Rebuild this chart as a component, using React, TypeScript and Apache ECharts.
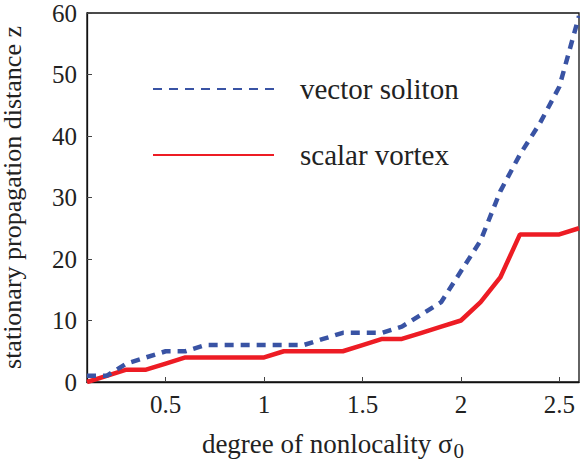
import React, { useEffect, useRef } from "react";
import * as echarts from "echarts";

const sigma = [0.1, 0.2, 0.3, 0.4, 0.5, 0.6, 0.7, 0.8, 0.9, 1.0, 1.1, 1.2, 1.3, 1.4, 1.5, 1.6, 1.7, 1.8, 1.9, 2.0, 2.1, 2.2, 2.3, 2.4, 2.5, 2.6];
const vectorSoliton = [1, 1, 3, 4, 5, 5, 6, 6, 6, 6, 6, 6, 7, 8, 8, 8, 9, 11, 13, 18, 23, 31, 37, 42, 48, 59.5];
const scalarVortex = [0, 1, 2, 2, 3, 4, 4, 4, 4, 4, 5, 5, 5, 5, 6, 7, 7, 8, 9, 10, 13, 17, 24, 24, 24, 25];
const seriesNames = ["vector soliton", "scalar vortex"];

const FONT = "Liberation Serif";
const BLUE = "#3953a4";
const RED = "#ed1c24";
const CSS = `#chart text, #chart tspan { font-family: 'Liberation Serif', 'Times New Roman', serif !important; }`;

export default function App() {
  const ref = useRef<HTMLDivElement>(null);
  useEffect(() => {
    if (!ref.current) return;
    const chart = echarts.init(ref.current, null, { renderer: "svg" });
    const pair = (xs: number[], ys: number[]) => xs.map((x, i) => [x, ys[i]]);
    chart.setOption({
      animation: false,
      grid: { left: 87, right: 1, top: 13, bottom: 84, show: true, borderColor: "#111", borderWidth: 1.3, outerBoundsMode: "none" },
      legend: {
        data: seriesNames,
        orient: "vertical",
        left: 147,
        top: 69,
        itemGap: 36,
        itemWidth: 121,
        itemHeight: 14,
        itemStyle: { opacity: 0 },
        textStyle: { fontFamily: FONT, fontSize: 29, color: "#222", padding: [0, 0, 0, 21], lineHeight: 30 },
      },
      xAxis: {
        type: "value",
        min: 0.1,
        max: 2.6,
        splitNumber: 5,
        name: "{a|degree of nonlocality σ}{b|0}",
        nameLocation: "middle",
        nameGap: 44,
        nameTextStyle: {
          fontFamily: FONT,
          rich: {
            a: { fontFamily: FONT, fontSize: 27, color: "#222" },
            b: { fontFamily: FONT, fontSize: 21, color: "#222", padding: [14, 0, 0, 1] },
          },
        },
        axisLine: { show: true, lineStyle: { color: "#111", width: 1.3 } },
        axisTick: { show: true, inside: true, length: 5, lineStyle: { color: "#444", width: 1 } },
        axisLabel: { fontFamily: FONT, fontSize: 25, color: "#222", showMinLabel: false, showMaxLabel: false, margin: 10 },
        splitLine: { show: false },
      },
      yAxis: {
        type: "value",
        min: 0,
        max: 60,
        interval: 10,
        name: "stationary propagation distance z",
        nameLocation: "middle",
        nameGap: 62,
        nameTextStyle: { fontFamily: FONT, fontSize: 26, color: "#222" },
        axisLine: { show: true, lineStyle: { color: "#111", width: 1.3 } },
        axisTick: { show: true, inside: true, length: 5, lineStyle: { color: "#444", width: 1 } },
        axisLabel: { fontFamily: FONT, fontSize: 25, color: "#222", margin: 10 },
        splitLine: { show: false },
      },
      series: [
        {
          name: seriesNames[0],
          type: "line",
          data: pair(sigma, vectorSoliton),
          symbol: "none",
          color: BLUE,
          lineStyle: { color: BLUE, width: 4.5, type: [9, 7] },
          z: 3,
        },
        {
          name: seriesNames[1],
          type: "line",
          data: pair(sigma, scalarVortex),
          symbol: "none",
          color: RED,
          lineStyle: { color: RED, width: 4.5, type: "solid" },
          z: 2,
        },
      ],
    });
    return () => chart.dispose();
  }, []);
  return (
    <>
      <style>{CSS}</style>
      <div id="chart" ref={ref} style={{ width: 580, height: 466, position: "absolute", left: 0, top: 0 }} />
    </>
  );
}
